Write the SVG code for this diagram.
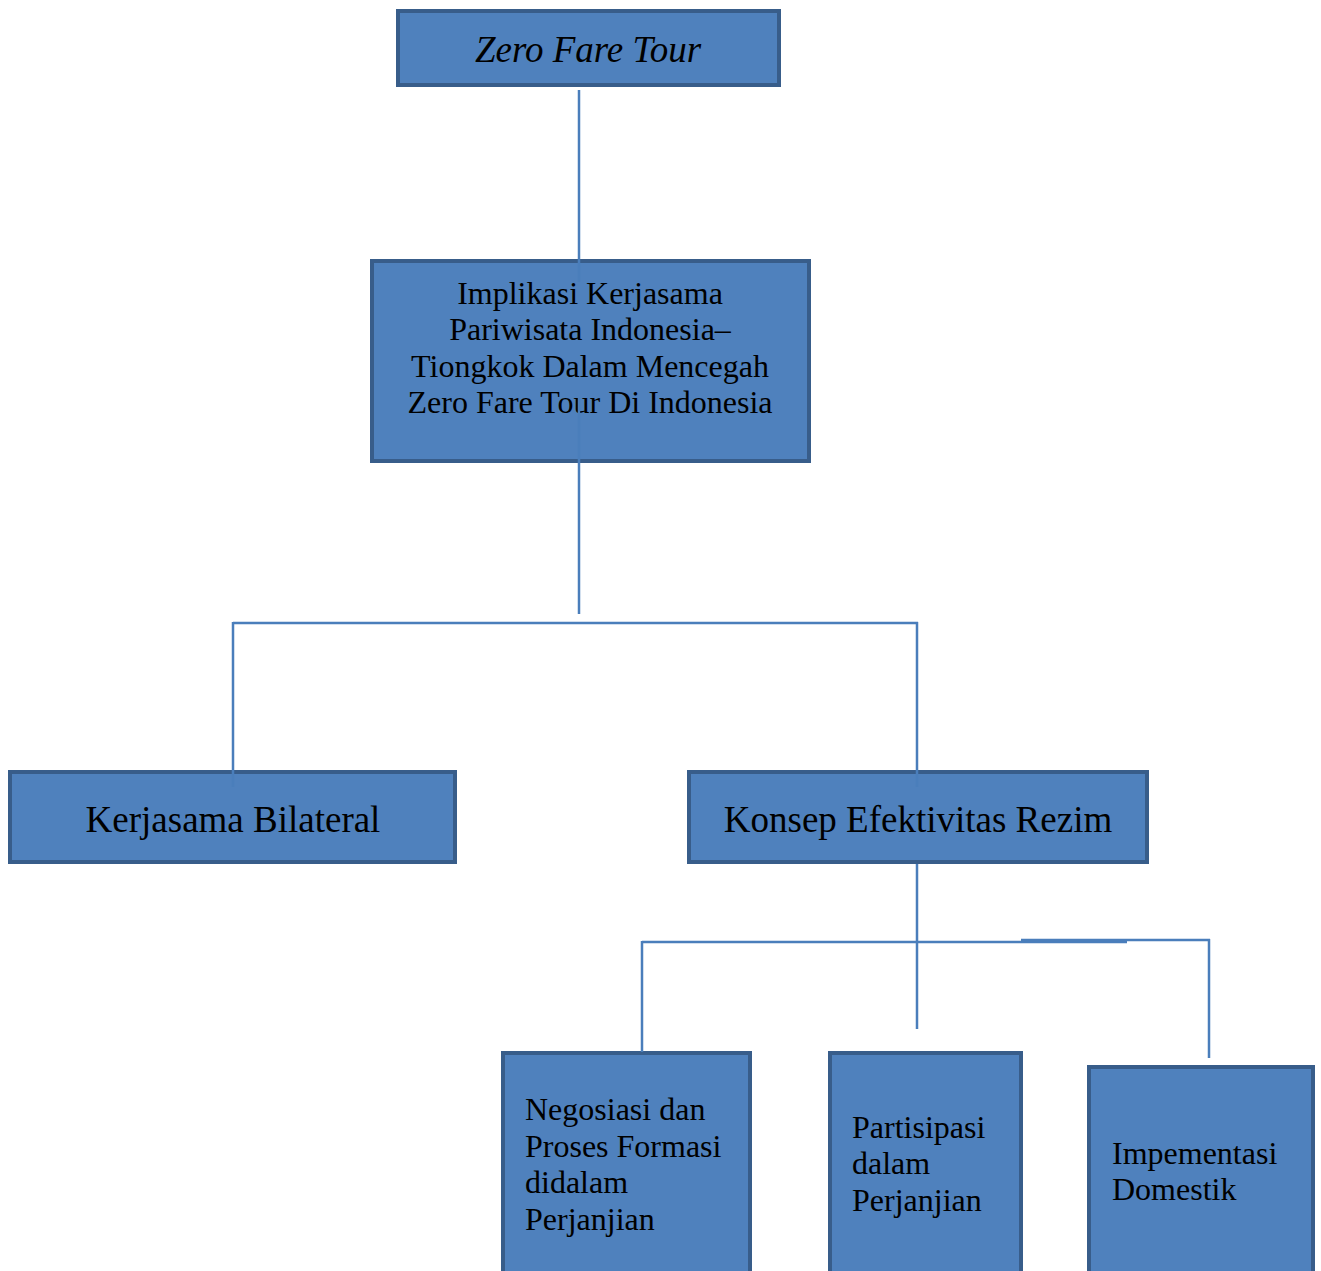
<svg xmlns="http://www.w3.org/2000/svg" width="1321" height="1271" viewBox="0 0 1321 1271">
<style>
.box{fill:#4F81BD;stroke:#385D8A;stroke-width:4}
.t{font-family:"Liberation Serif","Times New Roman",serif;fill:#000}
.c{text-anchor:middle}
.conn line{stroke:#4A7EBB;stroke-width:2.5;fill:none}
</style>
<rect width="1321" height="1271" fill="#fff"/>
<g id="n1">
<rect class="box" x="398" y="11" width="381" height="74"/>
<text class="t c" x="588" y="62" font-size="37" font-style="italic">Zero Fare Tour</text>
</g>
<g id="n2">
<rect class="box" x="372" y="261" width="437" height="200"/>
<text class="t c" font-size="32"><tspan x="590" y="304">Implikasi Kerjasama</tspan><tspan x="590" y="340">Pariwisata Indonesia–</tspan><tspan x="590" y="377">Tiongkok Dalam Mencegah</tspan><tspan x="590" y="413">Zero Fare Tour Di Indonesia</tspan></text>
</g>
<g id="n3">
<rect class="box" x="10" y="772" width="445" height="90"/>
<text class="t c" x="233" y="832" font-size="37">Kerjasama Bilateral</text>
</g>
<g id="n4">
<rect class="box" x="689" y="772" width="458" height="90"/>
<text class="t c" x="918" y="832" font-size="37">Konsep Efektivitas Rezim</text>
</g>
<g id="n5">
<rect class="box" x="503" y="1053" width="247" height="230"/>
<text class="t" font-size="32"><tspan x="525" y="1120">Negosiasi dan</tspan><tspan x="525" y="1157">Proses Formasi</tspan><tspan x="525" y="1193">didalam</tspan><tspan x="525" y="1230">Perjanjian</tspan></text>
</g>
<g id="n6">
<rect class="box" x="830" y="1053" width="191" height="230"/>
<text class="t" font-size="32"><tspan x="852" y="1138">Partisipasi</tspan><tspan x="852" y="1174">dalam</tspan><tspan x="852" y="1211">Perjanjian</tspan></text>
</g>
<g id="n7">
<rect class="box" x="1089" y="1067" width="224" height="220"/>
<text class="t" font-size="32"><tspan x="1112" y="1164">Impementasi</tspan><tspan x="1112" y="1200">Domestik</tspan></text>
</g>
<g id="connectors" class="conn">
<line x1="579" y1="90" x2="579" y2="282"/>
<line x1="579" y1="398" x2="579" y2="614"/>
<line x1="233" y1="623" x2="918" y2="623"/>
<line x1="233" y1="622" x2="233" y2="787"/>
<line x1="917" y1="622" x2="917" y2="787"/>
<line x1="917" y1="864" x2="917" y2="1029"/>
<line x1="642" y1="942" x2="1127" y2="942"/>
<line x1="1021" y1="940" x2="1210" y2="940"/>
<line x1="642" y1="941" x2="642" y2="1052"/>
<line x1="1209" y1="939" x2="1209" y2="1058"/>
</g>
</svg>
